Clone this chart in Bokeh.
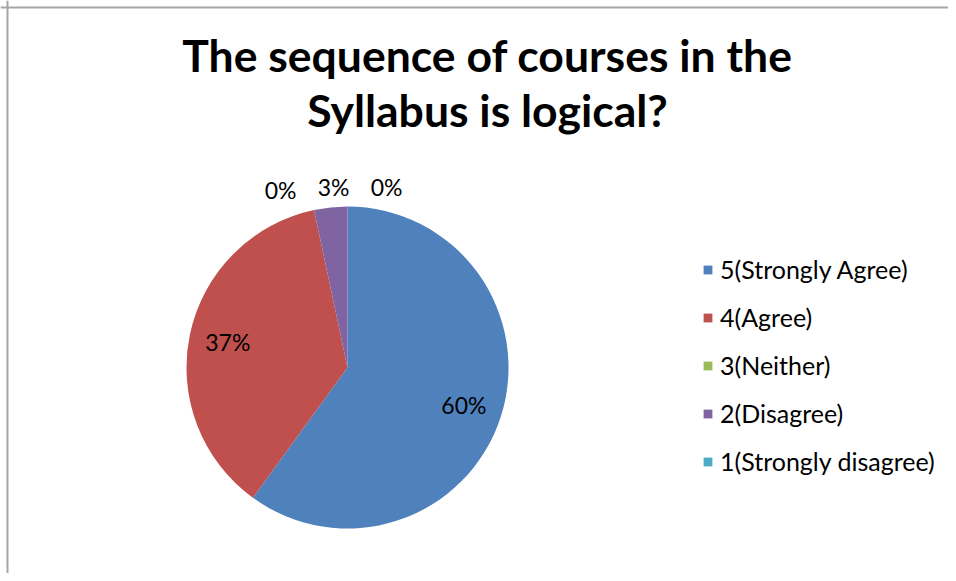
import math
from bokeh.plotting import figure
from bokeh.models import Range1d, ColumnDataSource, Legend, LegendItem, Span
from bokeh.core.properties import value
from bokeh.embed import file_html
from bokeh.resources import INLINE

# ---- data ----
title_lines = ["The sequence of courses in the", "Syllabus is logical?"]
categories = ["5(Strongly Agree)", "4(Agree)", "3(Neither)", "2(Disagree)", "1(Strongly disagree)"]
responses = [18, 11, 0, 1, 0]
colors = ["#4F81BD", "#C0504D", "#9BBB59", "#8064A2", "#4BACC6"]

# ---- layout (screen px from top-left -> figure data units, 1 unit = 1 px) ----
W, H = 948, 573
def fx(px):
    return px
def fy(py):
    return H - py

cx, cy, R = fx(347), fy(367), 161
FONT = "Lato"

p = figure(width=W, height=H, output_backend="svg", toolbar_location=None,
           x_range=Range1d(0, W), y_range=Range1d(0, H), min_border=0,
           background_fill_color="white", border_fill_color="white")
p.axis.visible = False
p.grid.visible = False
p.outline_line_color = None

# chart border (left and top edges visible in the reference)
p.add_layout(Span(location=fx(7), dimension="height", line_color="#A6A6A6", line_width=2))
p.add_layout(Span(location=fy(7), dimension="width", line_color="#A6A6A6", line_width=2))

# ---- pie ----
total = float(sum(responses))
fracs = [v / total for v in responses]
cum = [0.0]
for f in fracs:
    cum.append(cum[-1] + f)

renderers = []
for i, cat in enumerate(categories):
    c0, c1 = cum[i], cum[i + 1]
    data = dict(x=[cx], y=[cy], r=[R if fracs[i] > 0 else 0],
                start=[math.pi / 2 - 2 * math.pi * c1],
                end=[math.pi / 2 - 2 * math.pi * c0])
    rend = p.wedge(x="x", y="y", radius="r", start_angle="start", end_angle="end",
                   direction="anticlock", source=ColumnDataSource(data),
                   fill_color=colors[i], line_color=None)
    renderers.append(rend)

# ---- data labels ----
lab_x, lab_y, lab_t = [], [], []
outside = []
for i, f in enumerate(fracs):
    mid = (cum[i] + cum[i + 1]) / 2 * 2 * math.pi  # clockwise from top
    if f < 0.05:
        rr = R + 20
        outside.append(i)
    else:
        rr = 0.76 * R
    lab_x.append(cx + rr * math.sin(mid))
    lab_y.append(cy + rr * math.cos(mid))
    lab_t.append(f"{round(f * 100):.0f}%")

# spread colliding outside labels horizontally
if len(outside) > 1:
    gap = 53
    order = sorted(outside, key=lambda k: lab_x[k])
    mean_x = sum(lab_x[k] for k in order) / len(order) + 5
    n = len(order)
    for j, k in enumerate(order):
        lab_x[k] = mean_x + (j - (n - 1) / 2) * gap

p.text(x=lab_x, y=lab_y, text=lab_t, text_align="center", text_baseline="middle",
       text_font=value(FONT), text_font_size="23px", text_color="#000000")

# ---- title ----
p.text(x=[fx(487), fx(487)], y=[fy(54), fy(109)], text=title_lines,
       text_align="center", text_baseline="alphabetic", text_font=value(FONT),
       text_font_size="44.5px", text_font_style="bold", text_color="#000000")

# ---- legend ----
items = [LegendItem(label=cat, renderers=[renderers[i]]) for i, cat in enumerate(categories)]
legend = Legend(items=items, location=(702, 97), orientation="vertical",
                glyph_width=11, glyph_height=11, label_standoff=7,
                label_height=24, spacing=18, padding=0, margin=0,
                border_line_color=None, background_fill_alpha=0,
                label_text_font=FONT, label_text_font_size="25px",
                label_text_color="#000000", label_text_baseline="middle")
p.add_layout(legend)

open("out.html", "w").write(file_html(p, INLINE))
